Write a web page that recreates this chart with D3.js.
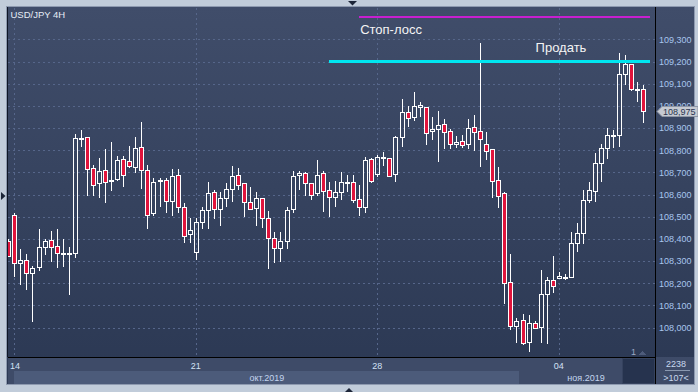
<!DOCTYPE html>
<html>
<head>
<meta charset="utf-8">
<script src="https://cdn.jsdelivr.net/npm/d3@7"></script>
<style>
  html, body { margin: 0; padding: 0; background: #c1ccda; }
  svg { display: block; }
  text { font-family: "Liberation Sans", Arial, sans-serif; }
</style>
</head>
<body>
<div id="chart"></div>
<script>
// USD/JPY 4H candles, index 0 = 14 oct 00:00 (weekends skipped, 30 bars per week)
const firstIndex = -1;
const opens = [
  108.392, 108.508, 108.292, 108.303, 108.247, 108.272, 108.362, 108.395, 108.368, 108.335,
  108.332, 108.335, 108.854, 108.858, 108.718, 108.651, 108.709, 108.661, 108.669, 108.759,
  108.750, 108.726, 108.813, 108.711, 108.515, 108.663, 108.664, 108.569, 108.687, 108.542,
  108.421, 108.339, 108.475, 108.529, 108.610, 108.533, 108.583, 108.624, 108.687, 108.651,
  108.568, 108.538, 108.583, 108.493, 108.403, 108.357, 108.390, 108.533, 108.687, 108.696,
  108.651, 108.606, 108.696, 108.619, 108.587, 108.610, 108.651, 108.655, 108.580, 108.545,
  108.759, 108.693, 108.765, 108.763, 108.693, 108.858, 108.972, 108.948, 109.002, 108.993,
  108.885, 108.897, 108.917, 108.885, 108.827, 108.840, 108.827, 108.903, 108.885, 108.827,
  108.804, 108.664, 108.607, 108.204, 108.008, 108.033, 107.933, 108.019, 108.001, 108.151,
  108.214, 108.223, 108.222, 108.229, 108.383, 108.428, 108.575, 108.617, 108.741, 108.808,
  108.865, 108.870, 109.142, 109.189, 109.077, 109.077
];
const highs = [
  108.398, 108.518, 108.353, 108.332, 108.278, 108.444, 108.398, 108.435, 108.444, 108.399,
  108.365, 108.873, 108.891, 108.860, 108.733, 108.763, 108.804, 108.838, 108.774, 108.774,
  108.819, 108.861, 108.927, 108.733, 108.676, 108.676, 108.676, 108.714, 108.714, 108.560,
  108.493, 108.493, 108.545, 108.656, 108.620, 108.610, 108.651, 108.729, 108.718, 108.653,
  108.634, 108.611, 108.585, 108.526, 108.430, 108.430, 108.542, 108.706, 108.706, 108.700,
  108.653, 108.756, 108.706, 108.656, 108.660, 108.702, 108.688, 108.687, 108.642, 108.771,
  108.766, 108.778, 108.793, 108.765, 108.864, 109.031, 108.999, 109.062, 109.017, 108.995,
  108.948, 108.977, 108.939, 108.894, 108.864, 108.867, 108.941, 108.959, 109.282, 108.882,
  108.806, 108.724, 108.610, 108.332, 108.044, 108.062, 108.057, 108.030, 108.260, 108.227,
  108.323, 108.249, 108.240, 108.432, 108.473, 108.620, 108.655, 108.789, 108.828, 108.900,
  108.891, 109.237, 109.228, 109.190, 109.108, 109.094
];
const lows = [
  108.320, 108.227, 108.192, 108.169, 108.026, 108.256, 108.327, 108.297, 108.270, 108.274,
  108.148, 108.312, 108.816, 108.593, 108.593, 108.586, 108.563, 108.617, 108.662, 108.635,
  108.718, 108.698, 108.624, 108.446, 108.503, 108.545, 108.515, 108.503, 108.518, 108.383,
  108.383, 108.305, 108.443, 108.444, 108.491, 108.459, 108.545, 108.565, 108.619, 108.500,
  108.533, 108.459, 108.450, 108.263, 108.290, 108.297, 108.353, 108.515, 108.620, 108.593,
  108.575, 108.593, 108.520, 108.500, 108.545, 108.575, 108.610, 108.560, 108.504, 108.515,
  108.653, 108.680, 108.729, 108.683, 108.658, 108.816, 108.906, 108.932, 108.951, 108.823,
  108.846, 108.748, 108.805, 108.805, 108.808, 108.808, 108.805, 108.798, 108.725, 108.756,
  108.586, 108.541, 108.106, 107.989, 107.929, 107.921, 107.891, 107.993, 107.929, 107.924,
  108.154, 108.218, 108.214, 108.227, 108.339, 108.375, 108.560, 108.568, 108.658, 108.759,
  108.808, 108.816, 109.094, 109.068, 109.017, 108.924
];
const closes = [
  108.323, 108.292, 108.305, 108.245, 108.267, 108.362, 108.390, 108.365, 108.335, 108.332,
  108.335, 108.854, 108.857, 108.714, 108.642, 108.706, 108.655, 108.665, 108.756, 108.687,
  108.727, 108.808, 108.709, 108.506, 108.655, 108.665, 108.569, 108.682, 108.542, 108.413,
  108.439, 108.475, 108.529, 108.606, 108.533, 108.584, 108.625, 108.684, 108.642, 108.565,
  108.533, 108.583, 108.493, 108.403, 108.357, 108.390, 108.529, 108.682, 108.696, 108.651,
  108.596, 108.687, 108.615, 108.587, 108.610, 108.655, 108.655, 108.574, 108.545, 108.754,
  108.662, 108.768, 108.768, 108.685, 108.858, 108.972, 108.947, 108.998, 108.993, 108.879,
  108.896, 108.912, 108.881, 108.827, 108.836, 108.825, 108.899, 108.881, 108.849, 108.798,
  108.662, 108.595, 108.200, 108.008, 108.030, 107.929, 108.019, 107.997, 108.150, 108.214,
  108.187, 108.231, 108.227, 108.380, 108.425, 108.574, 108.620, 108.741, 108.808, 108.867,
  108.870, 109.142, 109.189, 109.075, 109.075, 108.975
];

const priceTicks = [109.3, 109.2, 109.1, 109.0, 108.9, 108.8, 108.7, 108.6, 108.5, 108.4, 108.3, 108.2, 108.1, 108.0];
const dayTickIndex = [0, 30, 60, 90];
const dayTickLabels = ["14", "21", "28", "04"];
const monthLabels = ["окт.2019", "ноя.2019"];
const monthFrom = [0, 83.5];
const monthTo = [83.5, 105.5];

const levelNames = ["Стоп-лосс", "Продать"];
const levelPrices = [109.40, 109.20];
const levelFrom = [57, 52];
const levelTo = [105, 105];
const levelLabelAt = [57, 86];
const levelColors = ["#c81fd0", "#00e6f0"];

const lastPrice = 108.975;
const W = 698, H = 392;
const PLOT = { left: 8, top: 8, right: 655, bottom: 357 };

const x = d3.scaleLinear().domain([0, 90]).range([14.3, 558.8]);
const y = d3.scaleLinear().domain([108.0, 109.2]).range([327.5, 61.5]);
const fmt = v => d3.format(".3f")(v).replace(".", ",");

const svg = d3.select("#chart").append("svg")
  .attr("width", W)
  .attr("height", H)
  .attr("shape-rendering", "crispEdges");

const defs = svg.append("defs");
const grad = defs.append("linearGradient").attr("id", "bg")
  .attr("x1", 0).attr("y1", 0).attr("x2", 0).attr("y2", 1);
grad.append("stop").attr("offset", "0%").attr("stop-color", "#404d6a");
grad.append("stop").attr("offset", "100%").attr("stop-color", "#2b3853");
defs.append("clipPath").attr("id", "plotClip")
  .append("rect")
  .attr("x", PLOT.left).attr("y", PLOT.top)
  .attr("width", PLOT.right - PLOT.left).attr("height", PLOT.bottom - PLOT.top);

// OUTER FRAME
svg.append("rect").attr("width", W).attr("height", H).attr("fill", "#c1ccda");
svg.append("rect")
  .attr("x", 6.5).attr("y", 6.5).attr("width", 688).attr("height", 378)
  .attr("fill", "url(#bg)")
  .attr("stroke", "#8e9ab0");

// BOTTOM BANDS
svg.append("rect").attr("x", PLOT.left).attr("y", PLOT.bottom)
  .attr("width", 686).attr("height", 27).attr("fill", "#3e4b68");
monthLabels.forEach((m, k) => {
  const x0 = Math.max(x(monthFrom[k]), 14), x1 = Math.min(x(monthTo[k]), PLOT.right);
  if (k === 0) {
    svg.append("rect").attr("x", x0).attr("y", 371).attr("width", x1 - x0).attr("height", 13)
      .attr("fill", "#4c5b7a");
  }
  svg.append("text")
    .attr("x", (x0 + x1) / 2).attr("y", 380.5)
    .attr("text-anchor", "middle")
    .attr("font-size", "9px")
    .attr("fill", "#c3d5ee")
    .text(m);
});
svg.append("rect").attr("x", 622.5).attr("y", 358.5).attr("width", 32).attr("height", 25)
  .attr("fill", "#26334e").attr("stroke", "#35425e");

// GRID
const grid = svg.append("g").attr("stroke", "#56668a").attr("stroke-dasharray", "2,3");
priceTicks.forEach(p => {
  const yy = Math.round(y(p)) + 0.5;
  grid.append("line").attr("x1", PLOT.left).attr("x2", PLOT.right).attr("y1", yy).attr("y2", yy);
});
dayTickIndex.forEach(i => {
  const xx = Math.round(x(i)) + 0.5;
  grid.append("line").attr("x1", xx).attr("x2", xx).attr("y1", PLOT.top).attr("y2", PLOT.bottom);
});

// CANDLES
const candles = opens.map((o, k) => ({ i: k + firstIndex, o: o, h: highs[k], l: lows[k], c: closes[k] }));
const cg = svg.append("g").attr("clip-path", "url(#plotClip)");
candles.forEach(d => {
  const cx = Math.round(x(d.i));
  const top = Math.round(y(Math.max(d.o, d.c)));
  const bot = Math.round(y(Math.min(d.o, d.c)));
  const hi = Math.round(y(d.h)), lo = Math.round(y(d.l));
  const bodyH = Math.max(bot - top, 1);
  if (top > hi) cg.append("rect").attr("x", cx).attr("y", hi).attr("width", 1).attr("height", top - hi).attr("fill", "#fff");
  if (lo > top + bodyH) cg.append("rect").attr("x", cx).attr("y", top + bodyH).attr("width", 1).attr("height", lo - top - bodyH).attr("fill", "#fff");
  cg.append("rect")
    .attr("x", cx - 1.5).attr("y", top + 0.5)
    .attr("width", 4).attr("height", bodyH)
    .attr("fill", d.c < d.o && bot - top > 2 ? "#e0143c" : "none")
    .attr("stroke", "#fff");
});

// LEVELS
levelNames.forEach((name, k) => {
  const yy = y(levelPrices[k]);
  svg.append("line")
    .attr("x1", x(levelFrom[k])).attr("x2", x(levelTo[k]))
    .attr("y1", yy).attr("y2", yy)
    .attr("stroke", levelColors[k])
    .attr("stroke-width", k === 0 ? 2 : 3);
  svg.append("text")
    .attr("x", x(levelLabelAt[k]) + 1)
    .attr("y", k === 0 ? yy + 16.5 : yy - 9.5)
    .attr("font-family", "DejaVu Sans")
    .attr("font-size", "13px")
    .attr("fill", "#f4f4f4")
    .text(name);
});

// AXIS LINES
svg.append("line").attr("x1", PLOT.left).attr("x2", PLOT.right).attr("y1", PLOT.bottom + 0.5).attr("y2", PLOT.bottom + 0.5).attr("stroke", "#000");
svg.append("line").attr("x1", PLOT.right + 0.5).attr("x2", PLOT.right + 0.5).attr("y1", 7).attr("y2", 384).attr("stroke", "#000");
svg.append("line").attr("x1", 7.5).attr("x2", 7.5).attr("y1", 7).attr("y2", PLOT.bottom).attr("stroke", "#0e1626");

// PRICE AXIS
priceTicks.forEach(p => {
  svg.append("text")
    .attr("x", 659).attr("y", y(p) + 3.4)
    .attr("font-size", "9px")
    .attr("fill", "#a8c6ee")
    .text(fmt(p));
});
const ly = Math.round(y(lastPrice)) + 0.5;
svg.append("path")
  .attr("d", `M657,${ly} L662,${ly - 5} L698,${ly - 5} L698,${ly + 5} L662,${ly + 5} Z`)
  .attr("shape-rendering", "auto")
  .attr("fill", "#c6cad2")
  .attr("stroke", "#8e96a6");
svg.append("text")
  .attr("x", 663).attr("y", ly + 3.3)
  .attr("font-size", "9px")
  .attr("fill", "#2a3550")
  .text(fmt(lastPrice));

// TIME AXIS
dayTickIndex.forEach((i, k) => {
  svg.append("text")
    .attr("x", Math.max(x(i), 15)).attr("y", 368.5)
    .attr("text-anchor", "middle")
    .attr("font-size", "9px")
    .attr("fill", "#d2e1f5")
    .text(dayTickLabels[k]);
});

// CORNER INFO
svg.append("text").attr("x", 676).attr("y", 366.5).attr("text-anchor", "middle")
  .attr("font-size", "9px").attr("fill", "#c8d8ee").text("2238");
svg.append("line").attr("x1", 665).attr("x2", 690).attr("y1", 370.5).attr("y2", 370.5).attr("stroke", "#8a98b0");
svg.append("text").attr("x", 676).attr("y", 380.5).attr("text-anchor", "middle")
  .attr("font-size", "9px").attr("fill", "#c8d8ee").text(">107<");
svg.append("text").attr("x", 631).attr("y", 355).attr("font-size", "9px").attr("fill", "#9aa8c2").text("1");
svg.append("path").attr("d", "M639,355 L642.5,351 L646,355 Z").attr("fill", "#4d5b7a");

// TITLE
svg.append("text")
  .attr("x", 10.5).attr("y", 18.3)
  .attr("font-size", "9.5px")
  .attr("fill", "#e6ecf6")
  .text("USD/JPY 4H");

// SCROLL MARKERS
svg.append("path").attr("d", "M348,1 L357,1 L352.5,5.5 Z").attr("fill", "#1c2538").attr("shape-rendering", "auto");
svg.append("path").attr("d", "M1,192 L5.5,196 L1,200 Z").attr("fill", "#1c2538").attr("shape-rendering", "auto");
svg.append("path").attr("d", "M345,392 L353,392 L349,388 Z").attr("fill", "#1c2538").attr("shape-rendering", "auto");
</script>
</body>
</html>
